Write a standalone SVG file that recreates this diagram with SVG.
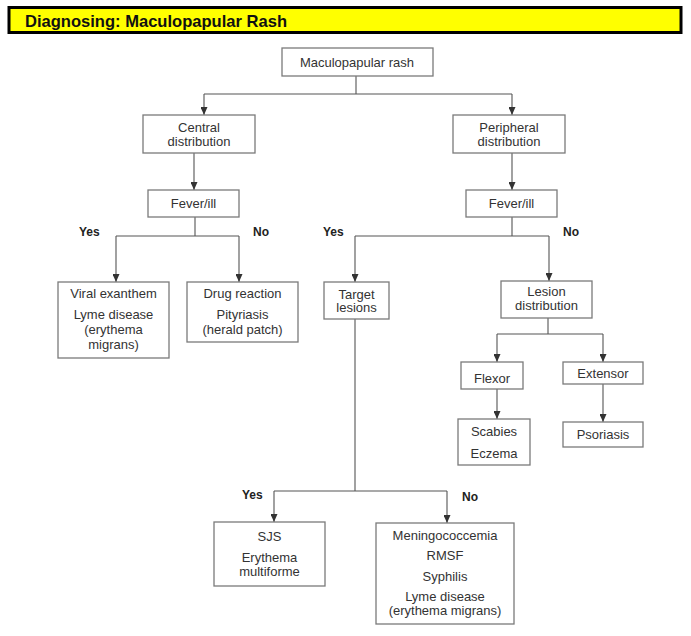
<svg xmlns="http://www.w3.org/2000/svg" width="691" height="636" viewBox="0 0 691 636">
<defs>
<marker id="ad" markerUnits="userSpaceOnUse" markerWidth="7" markerHeight="9" refX="3.5" refY="9" orient="0" viewBox="0 0 7 9">
<path d="M0,1 L7,1 L3.5,9 Z" fill="#333"/>
</marker>
<style>
.box{fill:#fff;stroke:#7a7a7a;stroke-width:1.3}
.t{font-family:"Liberation Sans",Arial,sans-serif;font-size:13px;fill:#333;text-anchor:middle}
.yn{font-family:"Liberation Sans",Arial,sans-serif;font-size:12px;font-weight:bold;fill:#222}
.c{fill:none;stroke:#555;stroke-width:1.1}
.a{marker-end:url(#ad)}
</style>
</defs>
<rect width="691" height="636" fill="#fff"/>
<g id="title">
<rect x="9" y="7.5" width="672" height="25" fill="#ffff00" stroke="#000" stroke-width="3"/>
<text x="25" y="27" font-family="Liberation Sans,Arial,sans-serif" font-size="17" font-weight="bold" fill="#111" textLength="262" lengthAdjust="spacingAndGlyphs">Diagnosing: Maculopapular Rash</text>
</g>
<g id="connectors">
<path class="c" d="M356,76 V94 M204,94 H512"/>
<path class="c a" d="M204,94 V115"/>
<path class="c a" d="M512,94 V115"/>
<path class="c a" d="M194,153 V190"/>
<path class="c a" d="M512,153 V190"/>
<path class="c" d="M195,217 V236 M116,236 H239"/>
<path class="c a" d="M116,236 V282"/>
<path class="c a" d="M239,236 V282"/>
<path class="c" d="M512,217 V236 M355,236 H549"/>
<path class="c a" d="M355,236 V282"/>
<path class="c a" d="M549,236 V281"/>
<path class="c" d="M548,318 V334 M497,334 H603"/>
<path class="c a" d="M497,334 V362"/>
<path class="c a" d="M603,334 V362"/>
<path class="c a" d="M497,389 V419"/>
<path class="c a" d="M603,384 V422"/>
<path class="c" d="M355,319 V491 M274,491 H447"/>
<path class="c a" d="M274,491 V522"/>
<path class="c a" d="M447,491 V523"/>
<text class="yn" x="79" y="236">Yes</text>
<text class="yn" x="253" y="236">No</text>
<text class="yn" x="323" y="236">Yes</text>
<text class="yn" x="563" y="236">No</text>
<text class="yn" x="242" y="499">Yes</text>
<text class="yn" x="462" y="501">No</text>
</g>
<g id="rash">
<rect class="box" x="282" y="48" width="151" height="28"/>
<text class="t" x="357" y="67">Maculopapular rash</text>
</g>
<g id="central">
<rect class="box" x="143" y="115" width="112" height="38"/>
<text class="t" x="199" y="132">Central</text>
<text class="t" x="199" y="146">distribution</text>
</g>
<g id="peripheral">
<rect class="box" x="453" y="115" width="112" height="38"/>
<text class="t" x="509" y="132">Peripheral</text>
<text class="t" x="509" y="146">distribution</text>
</g>
<g id="fever-central">
<rect class="box" x="148" y="190" width="91" height="27"/>
<text class="t" x="193.5" y="208">Fever/ill</text>
</g>
<g id="fever-peripheral">
<rect class="box" x="466" y="190" width="91" height="27"/>
<text class="t" x="511.5" y="208">Fever/ill</text>
</g>
<g id="viral">
<rect class="box" x="58" y="282" width="111" height="76"/>
<text class="t" x="113.5" y="298">Viral exanthem</text>
<text class="t" x="113.5" y="319">Lyme disease</text>
<text class="t" x="113.5" y="334">(erythema</text>
<text class="t" x="113.5" y="349">migrans)</text>
</g>
<g id="drug">
<rect class="box" x="187" y="282" width="111" height="60"/>
<text class="t" x="242.5" y="298">Drug reaction</text>
<text class="t" x="242.5" y="319">Pityriasis</text>
<text class="t" x="242.5" y="334">(herald patch)</text>
</g>
<g id="target">
<rect class="box" x="324" y="282" width="65" height="37"/>
<text class="t" x="356.5" y="298.5">Target</text>
<text class="t" x="356.5" y="312">lesions</text>
</g>
<g id="lesion">
<rect class="box" x="501" y="281" width="91" height="37"/>
<text class="t" x="546.5" y="296">Lesion</text>
<text class="t" x="546.5" y="310">distribution</text>
</g>
<g id="flexor">
<rect class="box" x="461" y="362" width="62" height="27"/>
<text class="t" x="492" y="383">Flexor</text>
</g>
<g id="extensor">
<rect class="box" x="563" y="362" width="80" height="22"/>
<text class="t" x="603" y="378">Extensor</text>
</g>
<g id="scabies">
<rect class="box" x="458" y="419" width="72" height="46"/>
<text class="t" x="494" y="436">Scabies</text>
<text class="t" x="494" y="458">Eczema</text>
</g>
<g id="psoriasis">
<rect class="box" x="563" y="422" width="80" height="25"/>
<text class="t" x="603" y="438.5">Psoriasis</text>
</g>
<g id="sjs">
<rect class="box" x="214" y="522" width="111" height="64"/>
<text class="t" x="269.5" y="541">SJS</text>
<text class="t" x="269.5" y="562">Erythema</text>
<text class="t" x="269.5" y="576">multiforme</text>
</g>
<g id="meningo">
<rect class="box" x="376" y="523" width="138" height="101"/>
<text class="t" x="445" y="539.5">Meningococcemia</text>
<text class="t" x="445" y="559.5">RMSF</text>
<text class="t" x="445" y="580.5">Syphilis</text>
<text class="t" x="445" y="601">Lyme disease</text>
<text class="t" x="445" y="615">(erythema migrans)</text>
</g>
</svg>
